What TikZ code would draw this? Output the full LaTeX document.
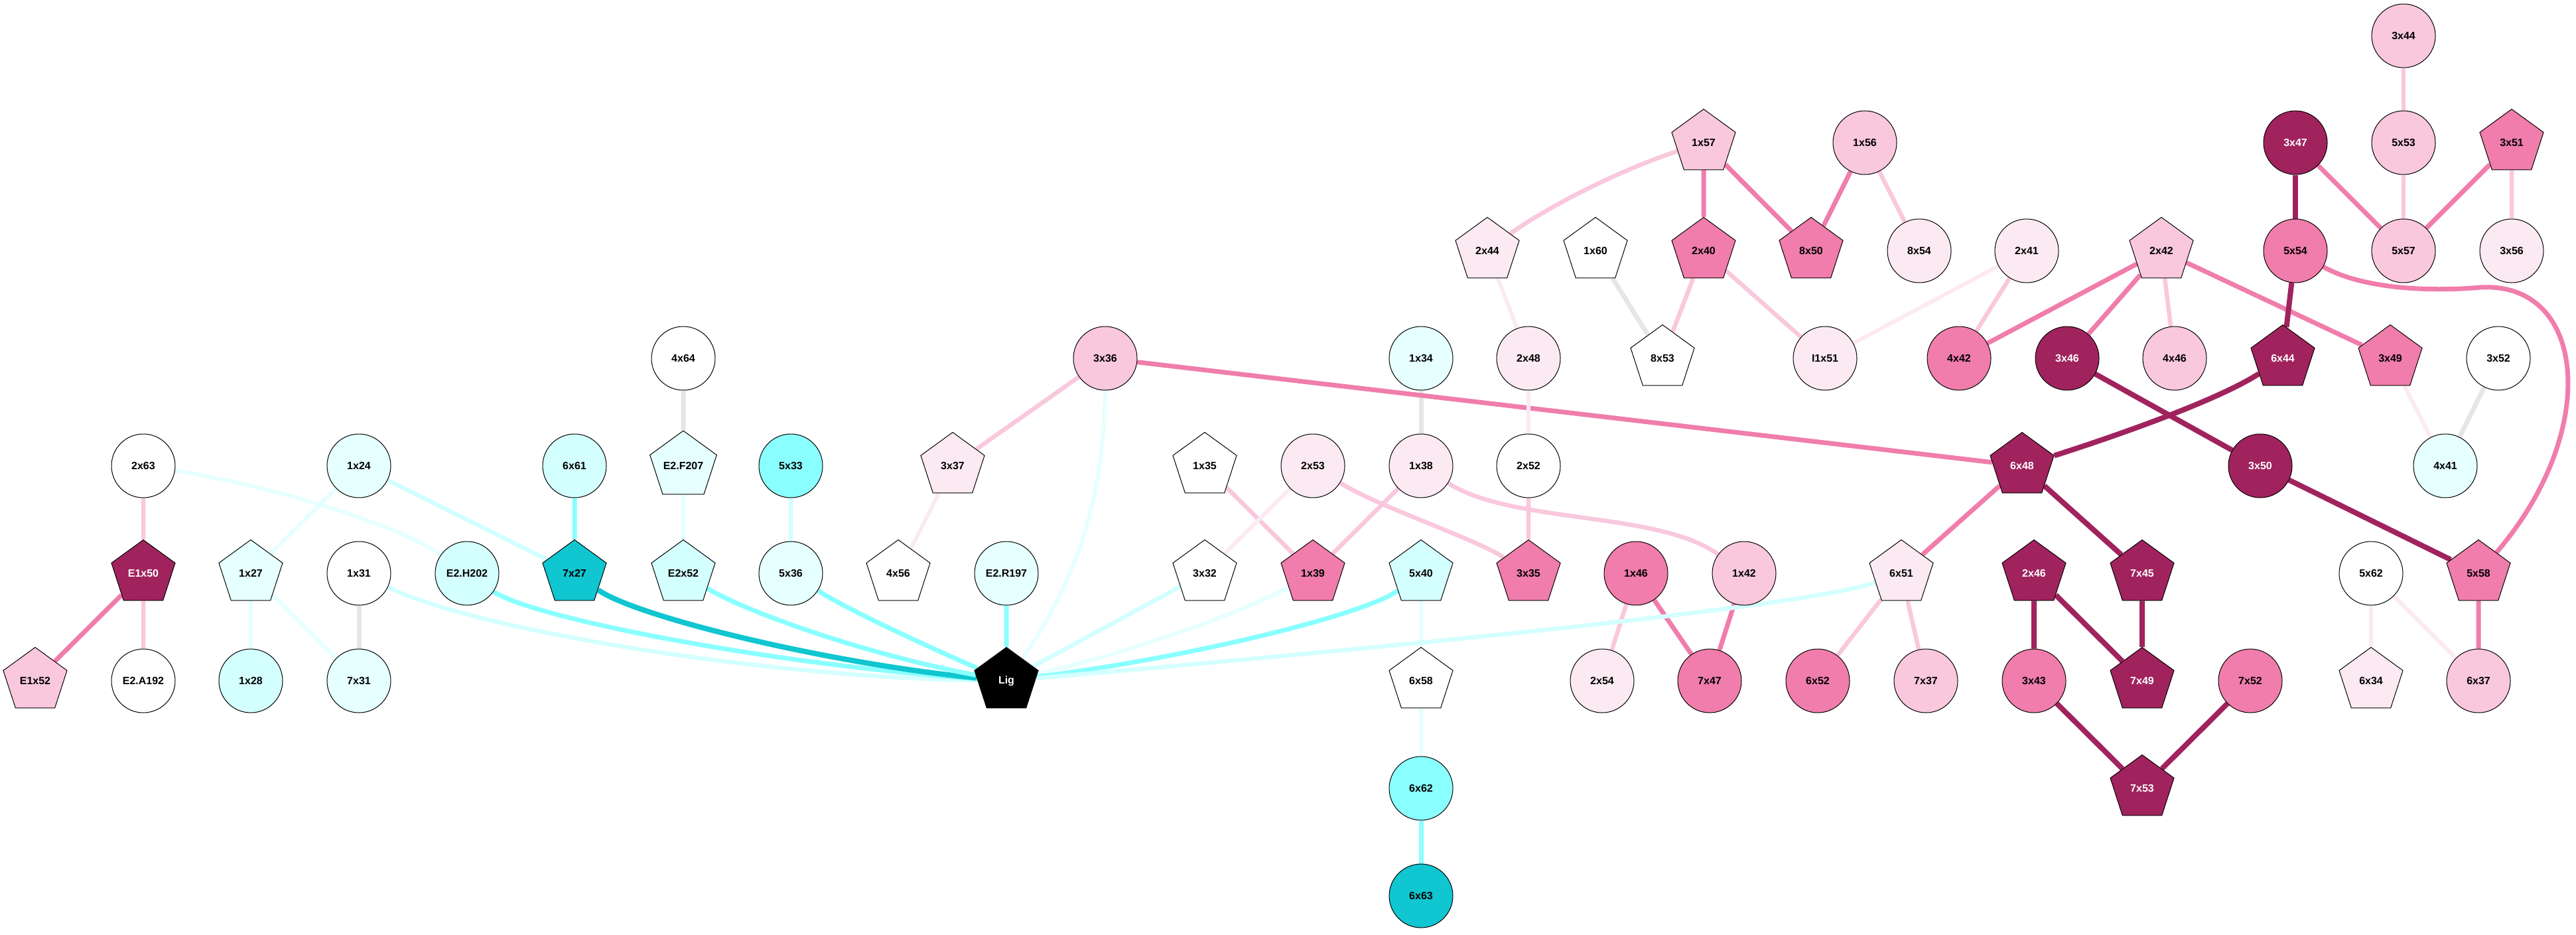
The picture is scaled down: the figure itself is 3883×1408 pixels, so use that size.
\documentclass[tikz,border=0pt]{standalone}
\usepackage{fontspec}
\setmainfont{Liberation Sans}
\usepackage{tikz}
\usetikzlibrary{shapes.geometric,backgrounds}
\definecolor{lc1}{HTML}{E6FFFF}
\definecolor{lc2}{HTML}{D4FFFF}
\definecolor{lc3}{HTML}{8AFFFF}
\definecolor{lc4}{HTML}{10C6D0}
\definecolor{lp1}{HTML}{FCEAF2}
\definecolor{lp2}{HTML}{F9C8DD}
\definecolor{lp3}{HTML}{F07DAB}
\definecolor{lp4}{HTML}{A0235E}
\definecolor{lg}{HTML}{E6E6E6}
\tikzstyle{res} = [draw=black, line width=1pt, inner sep=0pt, font=\bfseries\fontsize{16}{19}\selectfont]
\tikzstyle{rnd} = [res, circle, minimum size=96pt]
\tikzstyle{pent} = [res, regular polygon, regular polygon sides=5, minimum size=101pt]
\tikzstyle{ec1} = [draw=lc1, line width=6pt]
\tikzstyle{ec2} = [draw=lc2, line width=6.5pt]
\tikzstyle{ec3} = [draw=lc3, line width=7pt]
\tikzstyle{ec4} = [draw=lc4, line width=8pt]
\tikzstyle{ep1} = [draw=lp1, line width=6pt]
\tikzstyle{ep2} = [draw=lp2, line width=6.5pt]
\tikzstyle{ep3} = [draw=lp3, line width=7pt]
\tikzstyle{ep4} = [draw=lp4, line width=8pt]
\tikzstyle{eg} = [draw=lg, line width=7pt]

\begin{document}
\begin{tikzpicture}[x=1pt,y=-1pt]
\useasboundingbox (0,0) rectangle (3883,1408);
% round residues
\foreach \n/\x/\y/\c in {3x44/3623/54/lp2, 1x56/2811/215/lp2, 5x53/3623/215/lp2,
    8x54/2893/378/lp1, 2x41/3055/378/lp1, 5x54/3460/378/lp3, 5x57/3623/378/lp2, 3x56/3786/378/lp1,
    4x64/1030/540/white, 3x36/1666/540/lp2, 1x34/2142/540/lc1, 2x48/2304/540/lp1, I1x51/2751/540/lp1,
    4x42/2953/540/lp3, 4x46/3278/540/lp2, 3x52/3766/540/white,
    2x63/216/702/white, 1x24/541/702/lc1, 6x61/866/702/lc2, 5x33/1192/702/lc3, 2x53/1979/702/lp1,
    1x38/2142/702/lp1, 2x52/2304/702/white, 4x41/3686/702/lc1,
    1x31/541/864/white, 5x36/1192/864/lc1, 1x46/2466/864/lp3, 1x42/2629/864/lp2, 5x62/3574/864/white,
    1x28/378/1026/lc2, 7x31/541/1026/lc1, 2x54/2415/1026/lp1, 7x47/2577/1026/lp3, 6x52/2740/1026/lp3,
    7x37/2903/1026/lp2, 3x43/3066/1026/lp3, 7x52/3392/1026/lp3, 6x37/3736/1026/lp2,
    6x62/2142/1188/lc3, 6x63/2142/1350/lc4}{
  \node[rnd, fill=\c] (n\n) at (\x,\y) {\n};
}
\foreach \n/\x/\y in {3x47/3460/215, 3x46/3116/540, 3x50/3407/702}{
  \node[rnd, fill=lp4, text=white] (n\n) at (\x,\y) {\n};
}
\node[rnd, fill=lc2] (nE2H202) at (704,864) {E2.H202};
\node[rnd, fill=lc1] (nE2R197) at (1517,864) {E2.R197};
\node[rnd, fill=white] (nE2A192) at (216,1026) {E2.A192};
% pentagon residues
\foreach \n/\x/\y/\c in {1x57/2568/215/lp2, 3x51/3786/215/lp3,
    2x44/2242/378/lp1, 1x60/2405/378/white, 2x40/2568/378/lp3, 8x50/2730/378/lp3, 2x42/3258/378/lp2,
    8x53/2506/540/white, 3x49/3603/540/lp3,
    3x37/1436/702/lp1, 1x35/1816/702/white,
    1x27/378/864/lc1, 7x27/866/864/lc4, E2x52/1030/864/lc2, 4x56/1354/864/white, 3x32/1816/864/white,
    1x39/1979/864/lp3, 5x40/2142/864/lc2, 3x35/2304/864/lp3, 6x51/2866/864/lp1, 5x58/3736/864/lp3,
    E1x52/53/1026/lp2, 6x58/2142/1026/white, 6x34/3574/1026/lp1}{
  \node[pent, fill=\c] (n\n) at (\x,\y) {\n};
}
\foreach \n/\x/\y in {6x44/3441/540, 6x48/3048/702, E1x50/216/864, 2x46/3066/864,
    7x45/3229/864, 7x49/3229/1026, 7x53/3229/1188}{
  \node[pent, fill=lp4, text=white] (n\n) at (\x,\y) {\n};
}
\node[pent, fill=lc1] (nE2F207) at (1030,702) {E2.F207};
\node[pent, fill=black, text=white] (nLig) at (1517,1026) {Lig};

\begin{pgfonlayer}{background}
% straight links
\foreach \a/\b/\s in {1x24/1x27/ec1, 1x24/7x27/ec2, 6x61/7x27/ec3, 1x27/1x28/ec1, 1x27/7x31/ec1,
    1x31/7x31/eg, E2R197/Lig/ec3, 3x32/Lig/ec2, 4x64/E2F207/eg, E2F207/E2x52/ec1, 5x33/5x36/ec2,
    1x34/1x38/eg, 5x40/6x58/ec1, 6x58/6x62/ec1, 6x62/6x63/ec3,
    2x63/E1x50/ep2, E1x50/E1x52/ep3, E1x50/E2A192/ep2, 3x36/3x37/ep2, 3x36/6x48/ep3, 3x37/4x56/ep1,
    1x35/1x39/ep2, 2x53/3x32/ep1, 1x38/1x39/ep2, 2x48/2x52/ep1, 2x52/3x35/ep2, 2x44/2x48/ep1,
    1x57/2x40/ep3, 1x57/8x50/ep3, 1x56/8x50/ep3, 1x56/8x54/ep2, 1x60/8x53/eg, 2x40/8x53/ep2,
    2x40/I1x51/ep2, 2x41/I1x51/ep1, 2x41/4x42/ep2, 2x42/4x42/ep3, 2x42/3x46/ep3, 2x42/4x46/ep2,
    2x42/3x49/ep3, 3x47/5x54/ep4, 3x47/5x57/ep3, 3x44/5x53/ep2, 5x53/5x57/ep2, 3x51/5x57/ep3,
    3x51/3x56/ep2, 5x54/6x44/ep4, 3x46/3x50/ep4, 3x49/4x41/ep1, 3x52/4x41/eg, 6x48/6x51/ep3,
    6x48/7x45/ep4, 3x50/5x58/ep4, 1x46/2x54/ep2, 1x46/7x47/ep3, 1x42/7x47/ep3, 6x51/6x52/ep2,
    6x51/7x37/ep2, 2x46/3x43/ep4, 2x46/7x49/ep4, 7x45/7x49/ep4, 3x43/7x53/ep4, 7x52/7x53/ep4,
    5x62/6x34/ep1, 5x62/6x37/ep1, 5x58/6x37/ep3}{
  \draw[\s] (n\a) -- (n\b);
}
% curved links
\draw[ec1] (n2x63) .. controls (400,730) and (600,790) .. (nE2H202);
\draw[ec2] (n1x31) .. controls (720,950) and (1150,1020) .. (nLig);
\draw[ec3] (nE2H202) .. controls (800,930) and (1150,1000) .. (nLig);
\draw[ec4] (n7x27) .. controls (960,930) and (1250,1000) .. (nLig);
\draw[ec3] (nE2x52) .. controls (1120,920) and (1300,985) .. (nLig);
\draw[ec3] (n5x36) .. controls (1280,920) and (1400,975) .. (nLig);
\draw[ec1] (n3x36) .. controls (1665,750) and (1620,880) .. (nLig);
\draw[ec1] (n1x39) .. controls (1880,920) and (1700,985) .. (nLig);
\draw[ec3] (n5x40) .. controls (2060,925) and (1800,990) .. (nLig);
\draw[ec2] (n6x51) .. controls (2720,915) and (2100,975) .. (nLig);
\draw[ep2] (n2x53) .. controls (2080,765) and (2220,810) .. (n3x35);
\draw[ep2] (n1x38) .. controls (2280,790) and (2500,770) .. (n1x42);
\draw[ep2] (n1x57) .. controls (2430,260) and (2320,320) .. (n2x44);
\draw[ep3] (n5x54) .. controls (3560,435) and (3660,440) .. (3740,433)
  .. controls (3900,425) and (3920,650) .. (n5x58);
\draw[ep4] (n6x44) .. controls (3340,605) and (3180,660) .. (n6x48);
\end{pgfonlayer}
\end{tikzpicture}
\end{document}
